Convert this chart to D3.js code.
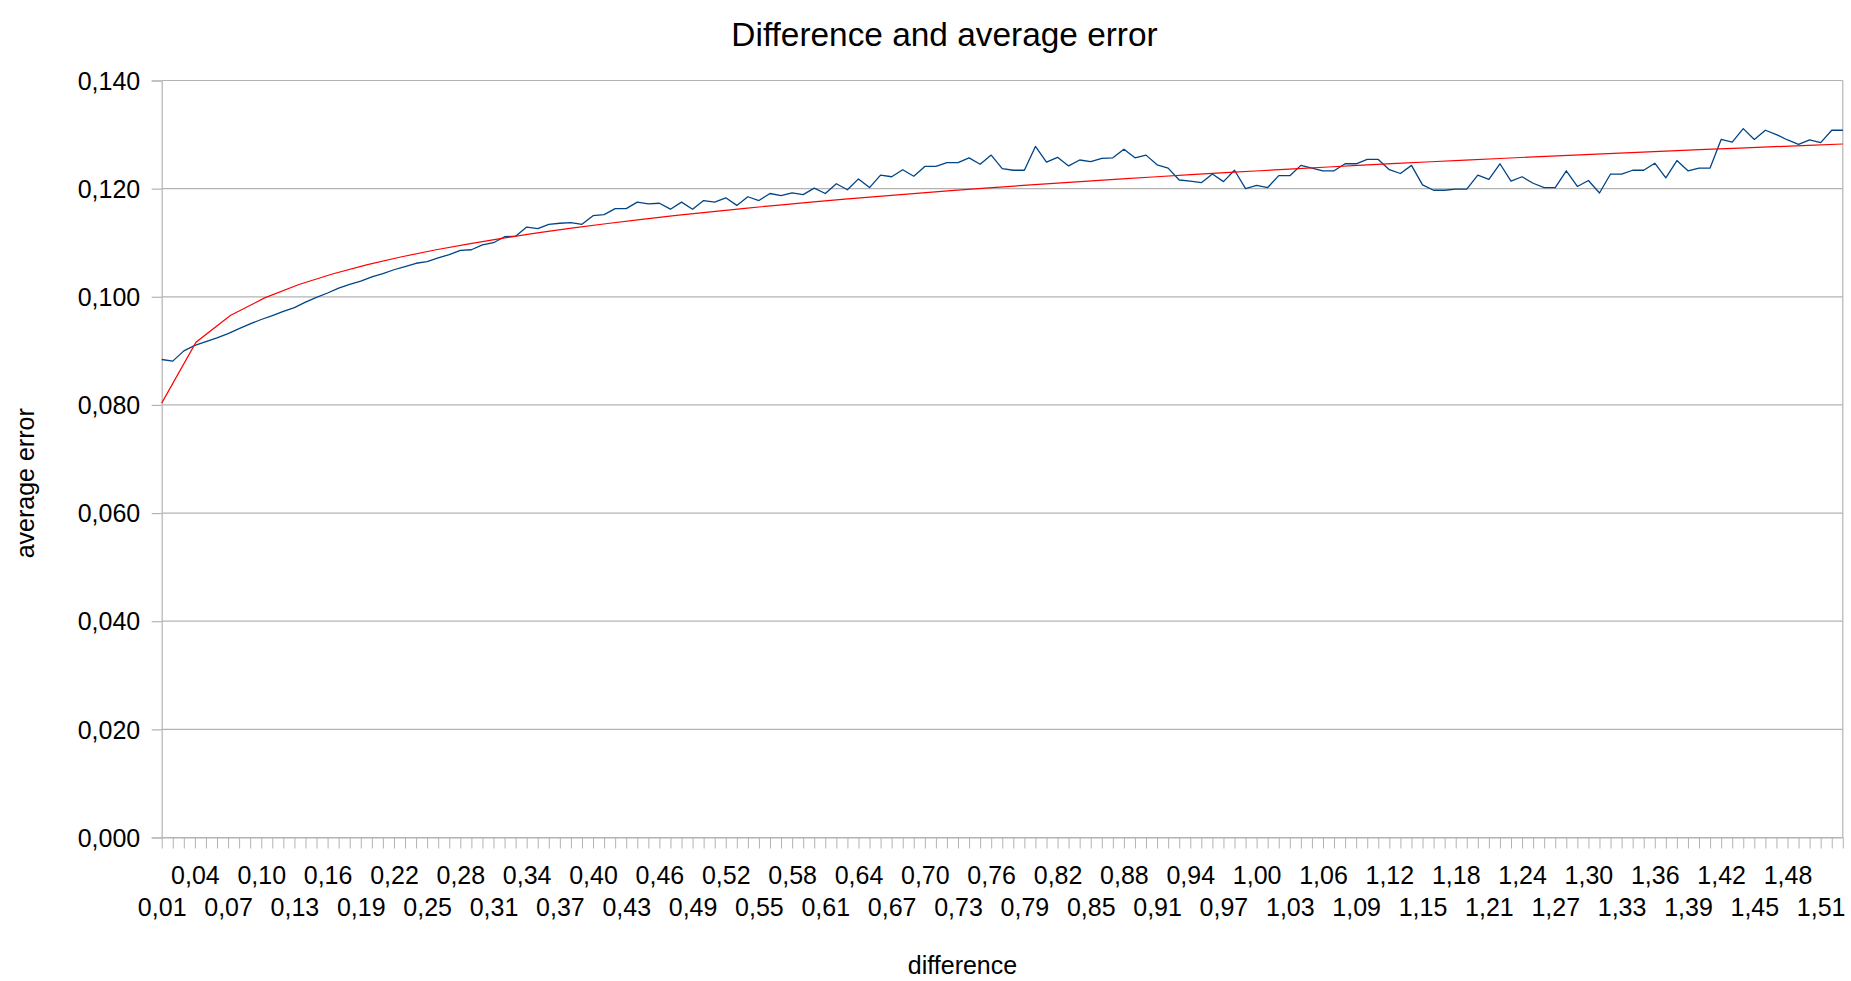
<!DOCTYPE html>
<html>
<head>
<meta charset="utf-8">
<script src="https://cdn.jsdelivr.net/npm/d3@7"></script>
<style>
  html, body { margin: 0; padding: 0; background: #ffffff; }
  svg { display: block; }
  text { font-family: "Liberation Sans", Arial, sans-serif; fill: #000; }
</style>
</head>
<body>
<svg id="chart" width="1851" height="981"></svg>
<script>
// ---- data ----
const chartTitle = "Difference and average error";
const xTitle = "difference";
const yTitle = "average error";

const categories = [
  0.01,0.02,0.03,0.04,0.05,0.06,0.07,0.08,0.09,0.10,
  0.11,0.12,0.13,0.14,0.15,0.16,0.17,0.18,0.19,0.20,
  0.21,0.22,0.23,0.24,0.25,0.26,0.27,0.28,0.29,0.30,
  0.31,0.32,0.33,0.34,0.35,0.36,0.37,0.38,0.39,0.40,
  0.41,0.42,0.43,0.44,0.45,0.46,0.47,0.48,0.49,0.50,
  0.51,0.52,0.53,0.54,0.55,0.56,0.57,0.58,0.59,0.60,
  0.61,0.62,0.63,0.64,0.65,0.66,0.67,0.68,0.69,0.70,
  0.71,0.72,0.73,0.74,0.75,0.76,0.77,0.78,0.79,0.80,
  0.81,0.82,0.83,0.84,0.85,0.86,0.87,0.88,0.89,0.90,
  0.91,0.92,0.93,0.94,0.95,0.96,0.97,0.98,0.99,1.00,
  1.01,1.02,1.03,1.04,1.05,1.06,1.07,1.08,1.09,1.10,
  1.11,1.12,1.13,1.14,1.15,1.16,1.17,1.18,1.19,1.20,
  1.21,1.22,1.23,1.24,1.25,1.26,1.27,1.28,1.29,1.30,
  1.31,1.32,1.33,1.34,1.35,1.36,1.37,1.38,1.39,1.40,
  1.41,1.42,1.43,1.44,1.45,1.46,1.47,1.48,1.49,1.50,
  1.51,1.52,1.53
];

const averageError = [
  0.0884,0.0881,0.0900,0.0910,0.0917,0.0924,0.0932,0.0941,0.0950,0.0958,
  0.0965,0.0973,0.0980,0.0990,0.0999,0.1007,0.1016,0.1023,0.1029,0.1037,
  0.1043,0.1050,0.1056,0.1062,0.1065,0.1072,0.1078,0.1086,0.1087,0.1096,
  0.1100,0.1111,0.1112,0.1129,0.1126,0.1134,0.1136,0.1137,0.1134,0.1150,
  0.1152,0.1163,0.1163,0.1175,0.1172,0.1173,0.1162,0.1175,0.1162,0.1178,
  0.1175,0.1183,0.1169,0.1185,0.1178,0.1191,0.1187,0.1192,0.1189,0.1201,
  0.1191,0.1209,0.1198,0.1218,0.1202,0.1225,0.1222,0.1235,0.1223,0.1241,
  0.1241,0.1248,0.1248,0.1257,0.1245,0.1262,0.1237,0.1234,0.1234,0.1278,
  0.1249,0.1258,0.1242,0.1253,0.1250,0.1256,0.1257,0.1273,0.1257,0.1262,
  0.1244,0.1238,0.1216,0.1214,0.1211,0.1227,0.1213,0.1234,0.1200,0.1206,
  0.1202,0.1224,0.1224,0.1243,0.1238,0.1233,0.1233,0.1246,0.1246,0.1254,
  0.1254,0.1235,0.1228,0.1243,0.1207,0.1197,0.1197,0.1199,0.1199,0.1225,
  0.1217,0.1246,0.1214,0.1222,0.1210,0.1202,0.1202,0.1233,0.1204,0.1215,
  0.1192,0.1227,0.1227,0.1234,0.1234,0.1247,0.1220,0.1252,0.1233,0.1238,
  0.1238,0.1291,0.1286,0.1311,0.1291,0.1308,0.1300,0.1290,0.1282,0.1290,
  0.1285,0.1308,0.1308
];

const yTicks = [0, 0.02, 0.04, 0.06, 0.08, 0.10, 0.12, 0.14];
const labelStep = 3;          // every third category is labelled
const trendSamples = 50;      // samples used to draw the power trend line

// ---- layout ----
const W = 1851, H = 981;
const plot = { left: 161.7, right: 1842.8, top: 80.5, bottom: 837.5 };
const gridColor = "#b3b3b3";

const svg = d3.select("#chart");
svg.append("rect").attr("width", W).attr("height", H).attr("fill", "#fff");

const locale = d3.formatLocale({ decimal: ",", thousands: ".", grouping: [3], currency: ["", ""] });
const fmtY = locale.format(".3f");
const fmtX = locale.format(".2f");

const x = d3.scalePoint().domain(categories).range([plot.left, plot.right]);
const xi = d3.scaleLinear().domain([0, categories.length - 1]).range([plot.left, plot.right]);
const y = d3.scaleLinear().domain([0, 0.14]).range([plot.bottom, plot.top]);

// gridlines
svg.append("g").selectAll("line").data(yTicks).join("line")
  .attr("x1", plot.left).attr("x2", plot.right)
  .attr("y1", d => y(d)).attr("y2", d => y(d))
  .attr("stroke", gridColor).attr("stroke-width", 1.2);

// right border of the wall
svg.append("line")
  .attr("x1", plot.right).attr("x2", plot.right)
  .attr("y1", plot.top).attr("y2", plot.bottom)
  .attr("stroke", gridColor).attr("stroke-width", 1.2);

// y axis
const yAxis = svg.append("g")
  .attr("transform", `translate(${plot.left},0)`)
  .call(d3.axisLeft(y).tickValues(yTicks).tickSize(10).tickPadding(11.5).tickFormat(fmtY));
yAxis.select(".domain").attr("stroke", gridColor).attr("stroke-width", 1.2);
yAxis.selectAll(".tick line").attr("stroke", gridColor).attr("stroke-width", 1.2);
yAxis.selectAll(".tick text")
  .attr("font-size", 25).attr("font-family", "'Liberation Sans', Arial, sans-serif")
  .attr("fill", "#000").attr("dy", "0.35em");

// x axis
const xAxis = svg.append("g")
  .attr("transform", `translate(0,${plot.bottom})`)
  .call(d3.axisBottom(x).tickSize(11).tickSizeOuter(0)
    .tickFormat((d, i) => (i % labelStep === 0 ? fmtX(d) : "")));
xAxis.select(".domain").attr("stroke", gridColor).attr("stroke-width", 1.2);
xAxis.selectAll(".tick line").attr("stroke", gridColor).attr("stroke-width", 1);
xAxis.selectAll(".tick text")
  .attr("font-size", 25).attr("font-family", "'Liberation Sans', Arial, sans-serif")
  .attr("fill", "#000").attr("dy", null)
  .attr("y", (d, i) => ((i / labelStep) % 2 === 1 ? 46 : 78.3));

// data line
const line = d3.line().x((d, i) => x(categories[i])).y(d => y(d));
svg.append("path").datum(averageError)
  .attr("d", line).attr("fill", "none")
  .attr("stroke", "#004586").attr("stroke-width", 1.3).attr("stroke-linejoin", "round");

// power trend line: y = b * n^a fitted on (n = 1..N, value)
const n = averageError.length;
let sx = 0, sy = 0, sxx = 0, sxy = 0;
averageError.forEach((v, i) => {
  const lx = Math.log(i + 1), ly = Math.log(v);
  sx += lx; sy += ly; sxx += lx * lx; sxy += lx * ly;
});
const a = (n * sxy - sx * sy) / (n * sxx - sx * sx);
const lnb = (sy - a * sx) / n;
const trendX = d3.range(trendSamples).map(k => 1 + k * (n - 1) / (trendSamples - 1));
svg.append("path").datum(trendX)
  .attr("d", d3.line().x(t => xi(t - 1)).y(t => y(Math.exp(lnb) * Math.pow(t, a))))
  .attr("fill", "none").attr("stroke", "#ff0000").attr("stroke-width", 1.2);

// titles
svg.append("text").attr("x", 944.5).attr("y", 46)
  .attr("text-anchor", "middle").attr("font-size", 33.4).text(chartTitle);
svg.append("text").attr("x", 962.5).attr("y", 974)
  .attr("text-anchor", "middle").attr("font-size", 25).text(xTitle);
svg.append("text").attr("transform", "translate(33.5,483.3) rotate(-90)")
  .attr("text-anchor", "middle").attr("font-size", 25).text(yTitle);
</script>
</body>
</html>
